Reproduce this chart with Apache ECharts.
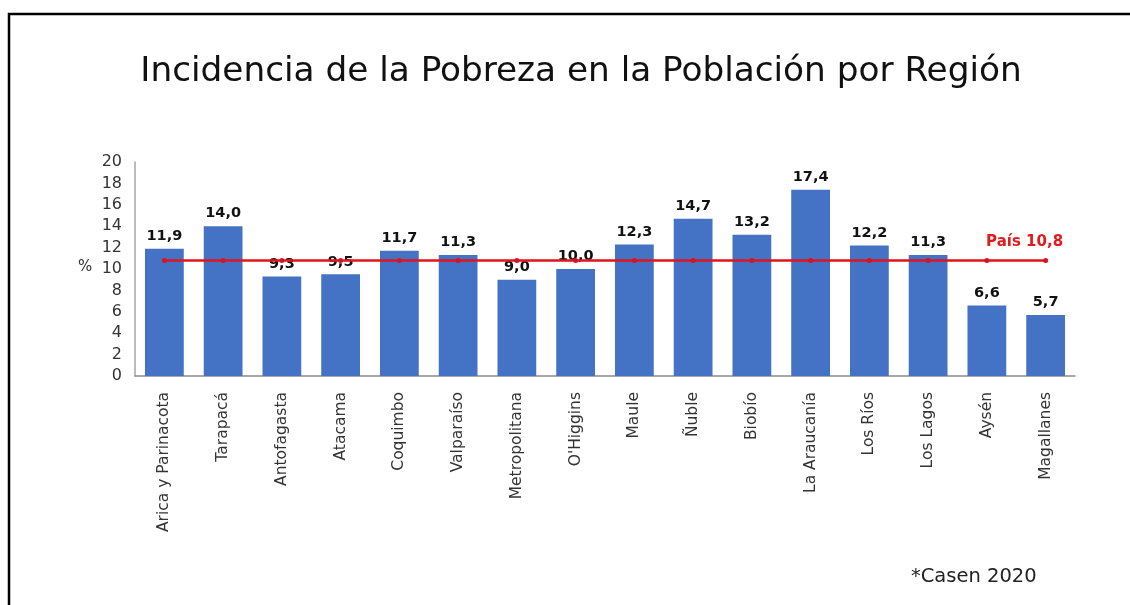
<!DOCTYPE html>
<html>
<head>
<meta charset="utf-8">
<script src="https://cdn.jsdelivr.net/npm/echarts@6/dist/echarts.min.js"></script>
<style>
  html, body { margin: 0; padding: 0; background: #fff; }
  #chart { width: 1130px; height: 605px; }
</style>
</head>
<body>
<div id="chart"></div>
<script>
// Regiones de Chile y tasa de pobreza (%), Casen 2020
const regiones = [
  'Arica y Parinacota', 'Tarapacá', 'Antofagasta', 'Atacama', 'Coquimbo',
  'Valparaíso', 'Metropolitana', "O'Higgins", 'Maule', 'Ñuble', 'Biobío',
  'La Araucanía', 'Los Ríos', 'Los Lagos', 'Aysén', 'Magallanes'
];
const pobreza = [11.9, 14.0, 9.3, 9.5, 11.7, 11.3, 9.0, 10.0, 12.3, 14.7, 13.2, 17.4, 12.2, 11.3, 6.6, 5.7];
const promedioPais = 10.8;
const paisSerie = regiones.map(() => promedioPais);
const yTicks = [0, 2, 4, 6, 8, 10, 12, 14, 16, 18, 20];

const fmt = v => v.toFixed(1).replace('.', ',');

const chart = echarts.init(document.getElementById('chart'), null, { renderer: 'canvas' });

chart.setOption({
  animation: false,
  backgroundColor: '#ffffff',
  graphic: [
    {
      type: 'polyline',
      shape: { points: [[9, 700], [9, 14], [1140, 14]] },
      style: { stroke: '#000', lineWidth: 2.5, fill: null }
    },
    {
      // título, ensanchado horizontalmente
      type: 'text',
      x: 581,
      y: 72,
      scaleX: 1.155,
      style: {
        text: 'Incidencia de la Pobreza en la Población por Región',
        font: '33px "DejaVu Sans Condensed"',
        fill: '#111',
        textAlign: 'center',
        textVerticalAlign: 'middle'
      }
    },
    {
      type: 'text',
      left: 911,
      top: 567,
      style: {
        text: '*Casen 2020',
        font: '19.5px "DejaVu Sans"',
        fill: '#222'
      }
    },
    {
      type: 'text',
      left: 78,
      top: 260,
      style: {
        text: '%',
        font: '15px "DejaVu Sans"',
        fill: '#333'
      }
    }
  ],
  grid: { left: 135, right: 55, top: 162, bottom: 229 },
  xAxis: {
    type: 'category',
    data: regiones,
    axisLine: { lineStyle: { color: '#8c8c8c', width: 1.5 } },
    axisTick: { show: false },
    axisLabel: {
      rotate: 90,
      interval: 0,
      margin: 16,
      fontFamily: 'DejaVu Sans',
      fontSize: 15.5,
      color: '#333'
    }
  },
  yAxis: {
    type: 'value',
    min: yTicks[0],
    max: yTicks[yTicks.length - 1],
    interval: 2,
    splitLine: { show: false },
    axisLine: { show: true, lineStyle: { color: '#a6a6a6', width: 1.5 } },
    axisTick: { show: false },
    axisLabel: {
      margin: 13,
      fontFamily: 'DejaVu Sans',
      fontSize: 16,
      color: '#333'
    }
  },
  series: [
    {
      type: 'bar',
      data: pobreza,
      barWidth: '66%',
      itemStyle: { color: '#4472c4' },
      label: {
        show: true,
        position: 'top',
        distance: 5,
        formatter: p => fmt(p.value),
        fontFamily: 'DejaVu Sans',
        fontWeight: 'bold',
        fontSize: 14.5,
        color: '#111'
      },
      z: 2
    },
    {
      type: 'line',
      data: paisSerie.map((v, i) => i === paisSerie.length - 1
        ? {
            value: v,
            label: {
              show: true,
              position: 'top',
              offset: [-21, -3],
              formatter: 'País ' + fmt(promedioPais),
              fontFamily: 'DejaVu Sans',
              fontWeight: 'bold',
              fontSize: 15,
              color: '#e31a1c'
            }
          }
        : v),
      symbol: 'circle',
      symbolSize: 5,
      lineStyle: { color: '#e0151d', width: 2.5 },
      itemStyle: { color: '#d9141c' },
      z: 3
    }
  ]
});
</script>
</body>
</html>
